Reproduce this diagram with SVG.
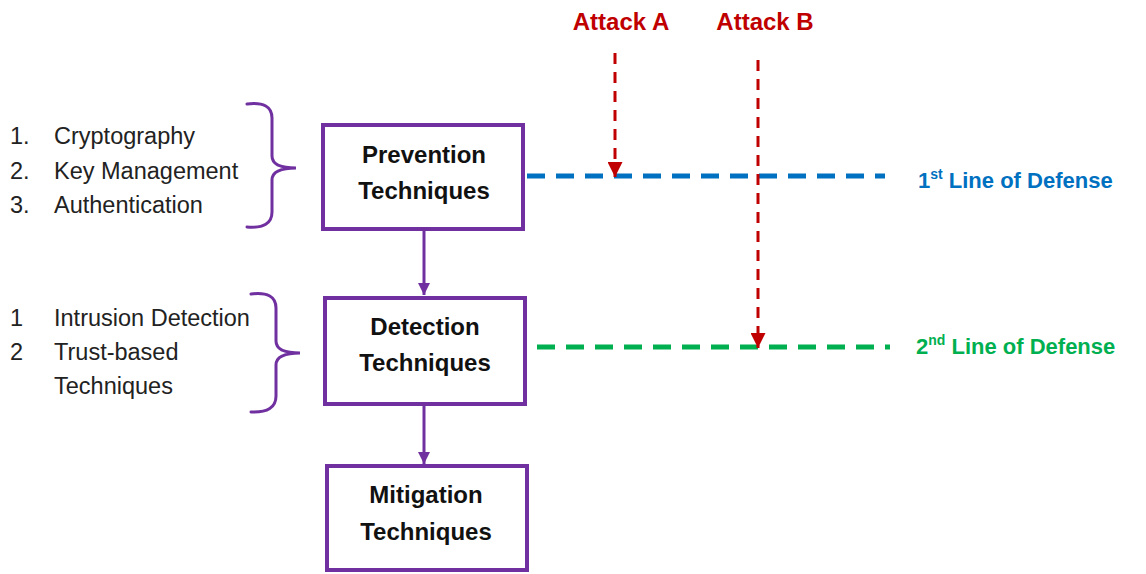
<svg xmlns="http://www.w3.org/2000/svg" width="1146" height="574" viewBox="0 0 1146 574">
  <style>
    .box { fill: #ffffff; stroke: #7030A0; stroke-width: 4; }
    .title { font-family: "Liberation Sans", Arial, sans-serif; font-weight: bold; font-size: 24px; fill: #111111; text-anchor: middle; }
    .item { font-family: "Liberation Sans", Arial, sans-serif; font-size: 23.5px; fill: #222222; }
    .brace { fill: none; stroke: #7030A0; stroke-width: 3; stroke-linecap: round; }
    .flow { stroke: #7030A0; stroke-width: 3; fill: none; }
    .attack { stroke: #C00000; stroke-width: 3; stroke-dasharray: 11 8; fill: none; }
    .atk-label { font-family: "Liberation Sans", Arial, sans-serif; font-weight: bold; font-size: 24px; fill: #C00000; text-anchor: middle; }
    .def1 { stroke: #0070C0; stroke-width: 5; stroke-dasharray: 18 11; fill: none; }
    .def2 { stroke: #00B050; stroke-width: 5; stroke-dasharray: 18 11; fill: none; }
    .def-label { font-family: "Liberation Sans", Arial, sans-serif; font-weight: bold; font-size: 22px; }
  </style>
  <defs>
    <marker id="purpleHead" viewBox="0 0 10 10" refX="10" refY="5" markerWidth="4" markerHeight="4" orient="auto" markerUnits="strokeWidth">
      <path d="M0,0 L10,5 L0,10 z" fill="#7030A0"/>
    </marker>
    <marker id="redHead" viewBox="0 0 10 10" refX="10" refY="5" markerWidth="5" markerHeight="5" orient="auto" markerUnits="strokeWidth">
      <path d="M0,0 L10,5 L0,10 z" fill="#C00000"/>
    </marker>
  </defs>
  <rect width="1146" height="574" fill="#ffffff"/>

  <!-- defense lines and attack paths -->
  <g id="connectors">
    <line class="def1" x1="527" y1="176" x2="885" y2="176"/>
    <line class="def2" x1="537" y1="347" x2="890" y2="347"/>
    <line class="attack" x1="615" y1="53" x2="615" y2="177" marker-end="url(#redHead)"/>
    <line class="attack" x1="758" y1="60" x2="758" y2="348" marker-end="url(#redHead)"/>
    <line class="flow" x1="424" y1="231" x2="424" y2="295" marker-end="url(#purpleHead)"/>
    <line class="flow" x1="424" y1="406" x2="424" y2="464" marker-end="url(#purpleHead)"/>
  </g>

  <g id="prevention">
    <rect class="box" x="323" y="125" width="200" height="104"/>
    <text class="title" x="424" y="163">Prevention</text>
    <text class="title" x="424" y="199">Techniques</text>
  </g>

  <g id="detection">
    <rect class="box" x="325" y="298" width="200" height="106"/>
    <text class="title" x="425" y="335">Detection</text>
    <text class="title" x="425" y="371">Techniques</text>
  </g>

  <g id="mitigation">
    <rect class="box" x="327" y="466" width="200" height="104"/>
    <text class="title" x="426" y="503">Mitigation</text>
    <text class="title" x="426" y="540">Techniques</text>
  </g>

  <g id="prevention-methods">
    <text class="item" x="10" y="144">1.</text>
    <text class="item" x="54" y="144">Cryptography</text>
    <text class="item" x="10" y="179">2.</text>
    <text class="item" x="54" y="179">Key Management</text>
    <text class="item" x="10" y="213">3.</text>
    <text class="item" x="54" y="213">Authentication</text>
    <path class="brace" d="M247,104 Q272,101 272,118 L272,156 Q272,168 296,168 Q272,168 272,180 L272,212 Q272,229 247,227"/>
  </g>

  <g id="detection-methods">
    <text class="item" x="10" y="326">1</text>
    <text class="item" x="54" y="326">Intrusion Detection</text>
    <text class="item" x="10" y="360">2</text>
    <text class="item" x="54" y="360">Trust-based</text>
    <text class="item" x="54" y="394">Techniques</text>
    <path class="brace" d="M251,294 Q276,291 276,308 L276,341 Q276,353 300,353 Q276,353 276,365 L276,396 Q276,413 251,412"/>
  </g>

  <g id="attack-a">
    <text class="atk-label" x="621" y="30">Attack A</text>
  </g>
  <g id="attack-b">
    <text class="atk-label" x="765" y="30">Attack B</text>
  </g>

  <g id="first-line">
    <text class="def-label" x="918" y="188" fill="#0070C0">1<tspan font-size="14" dy="-9">st</tspan><tspan dy="9"> Line of Defense</tspan></text>
  </g>
  <g id="second-line">
    <text class="def-label" x="916" y="354" fill="#00B050">2<tspan font-size="14" dy="-9">nd</tspan><tspan dy="9"> Line of Defense</tspan></text>
  </g>
</svg>
